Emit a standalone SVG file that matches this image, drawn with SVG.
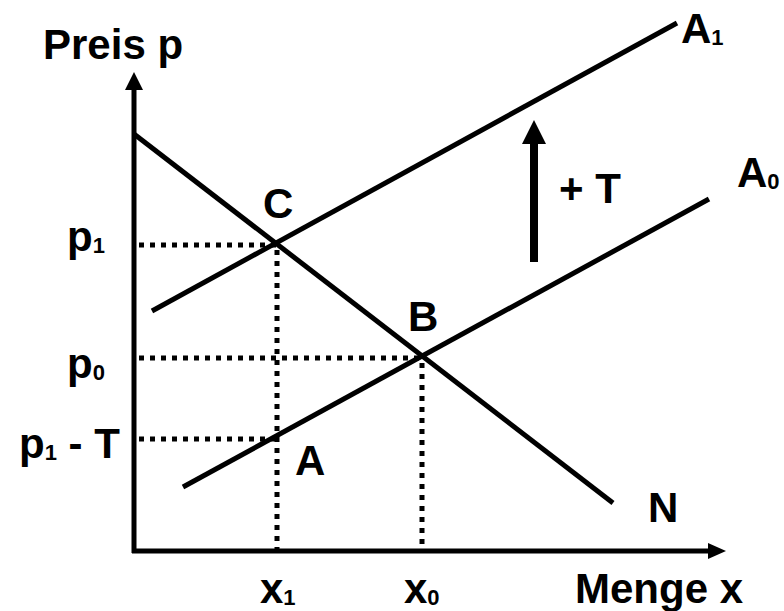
<svg xmlns="http://www.w3.org/2000/svg" width="784" height="611" viewBox="0 0 784 611">
<style>
.ln{stroke:#000;stroke-width:5;fill:none;stroke-linecap:butt}
.dot{stroke:#000;stroke-width:5;fill:none;stroke-dasharray:5 6}
text{font-family:"Liberation Sans",Arial,sans-serif;font-weight:bold;font-size:42px;fill:#000}
.sub{font-size:22px}
</style>
<rect width="784" height="611" fill="#fff"/>
<g id="axes">
<line class="ln" x1="134" y1="553" x2="134" y2="86"/>
<polygon points="134,72 125,90 143,90" fill="#000"/>
<line class="ln" x1="132" y1="551" x2="710" y2="551"/>
<polygon points="726,551 708,543 708,559" fill="#000"/>
<text x="43" y="59">Preis p</text>
<text x="575" y="603">Menge x</text>
</g>
<g id="guides">
<line class="dot" x1="139" y1="245" x2="276" y2="245"/>
<line class="dot" x1="277" y1="250" x2="277" y2="549"/>
<line class="dot" x1="139" y1="358" x2="420" y2="358"/>
<line class="dot" x1="422" y1="363" x2="422" y2="549"/>
<line class="dot" x1="139" y1="439" x2="276" y2="439"/>
</g>
<g id="connectors">
<line id="N" class="ln" x1="134" y1="134" x2="613" y2="503"/>
<line id="A1" class="ln" x1="152" y1="311" x2="677" y2="23"/>
<line id="A0" class="ln" x1="183" y1="487" x2="709" y2="199"/>
<line class="ln" x1="534" y1="262" x2="534" y2="140" style="stroke-width:8"/>
<polygon points="534,120 522,144 546,144" fill="#000"/>
</g>
<g id="labels">
<text x="681" y="43">A<tspan class="sub" dy="2">1</tspan></text>
<text x="737" y="187">A<tspan class="sub" dy="2">0</tspan></text>
<text x="648" y="522">N</text>
<text x="263" y="218">C</text>
<text x="408" y="331">B</text>
<text x="295" y="475">A</text>
<text x="559" y="203">+ T</text>
<text x="67" y="251">p<tspan class="sub" dy="2">1</tspan></text>
<text x="67" y="378">p<tspan class="sub" dy="2">0</tspan></text>
<text x="19" y="458">p<tspan class="sub" dy="2">1</tspan><tspan dy="-2"> - T</tspan></text>
<text x="260" y="603">x<tspan class="sub" dy="2">1</tspan></text>
<text x="404" y="603">x<tspan class="sub" dy="2">0</tspan></text>
</g>
</svg>
